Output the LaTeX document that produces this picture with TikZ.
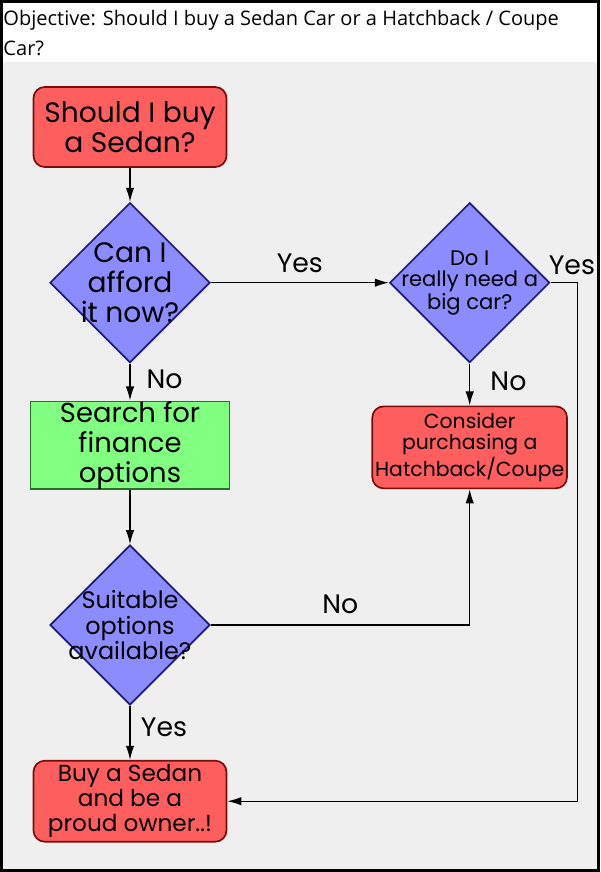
\documentclass[tikz,border=0pt]{standalone}
\usepackage{fontspec}
\setmainfont{Poppins}
\newfontfamily\headfont{Open Sans}
\usepackage{tikz}
\usetikzlibrary{arrows.meta, positioning, shapes.geometric}
\definecolor{boxred}{HTML}{FF5E5E}
\definecolor{boxredline}{HTML}{7A0C0C}
\definecolor{boxblue}{HTML}{8C8CFF}
\definecolor{boxblueline}{HTML}{1C1C78}
\definecolor{boxgreen}{HTML}{80FF80}
\definecolor{boxgreenline}{HTML}{2A6E2A}
\definecolor{paper}{HTML}{EFEFEF}

\begin{document}
\begin{tikzpicture}[
  endbox/.style={draw=boxredline, fill=boxred, line width=1.2pt, rounded corners=8pt, minimum width=4.825cm, minimum height=2cm, align=center, inner sep=2pt},
  decision/.style={diamond, draw=boxblueline, fill=boxblue, line width=1.2pt, minimum width=4cm, minimum height=4cm, inner sep=-14pt, align=center},
  process/.style={draw=boxgreenline, fill=boxgreen, line width=1.2pt, minimum width=4.975cm, minimum height=2.15cm, align=center, inner sep=0pt},
  arrow/.style={-{Latex[length=10pt, width=6pt]}, line width=0.9pt},
  answer/.style={font=\fontsize{19}{21}\selectfont},
  bigtext/.style={font=\fontsize{20}{21.3}\selectfont},
  midtext/.style={font=\fontsize{16.5}{17.8}\selectfont},
  smalltext/.style={font=\fontsize{14.5}{15}\selectfont},
]

% Page, header and frame
\useasboundingbox (0,0) rectangle (15,-21.8);
\fill[white] (0,0) rectangle (15,-21.8);
\fill[paper] (0,-1.55) rectangle (15,-21.8);
\draw[line width=2.2pt] (0.04,-0.04) rectangle (14.96,-21.76);
\node[anchor=north west, inner sep=0pt, align=left, font=\headfont\fontsize{14.25}{21.3}\selectfont] (objective) at (0.08,-0.25) {Objective: Should I buy a Sedan Car or a Hatchback / Coupe\\Car?};

% Left column
\node[endbox, bigtext] (sedan) at (3.25,-3.175) {Should I buy\\a Sedan?};
\node[decision, bigtext, below=0.85cm of sedan] (afford) {Can I\\afford\\it now?};
\node[process, bigtext, font=\fontsize{19.5}{21.3}\selectfont, below=0.925cm of afford] (finance) {Search for\\finance\\options};
\node[decision, midtext, font=\fontsize{17}{17.8}\selectfont, below=1.35cm of finance] (suitable) {Suitable\\options\\available?};
\node[endbox, midtext, minimum height=2.025cm, below=1.35cm of suitable] (buy) {Buy a Sedan\\and be a\\proud owner..!};

% Right column
\node[decision, smalltext, font=\fontsize{15}{15}\selectfont, right=4.45cm of afford] (needbig) {Do I\\really need a\\big car?};
\node[endbox, smalltext, minimum width=4.8cm, minimum height=2.05cm, below=1.05cm of needbig] (consider) {Consider\\purchasing a\\Hatchback/Coupe};
\coordinate[right=0.675cm of needbig.east] (turn);

% Arrows
\draw[arrow] (sedan) -- (afford);
\draw[arrow] (afford) -- node[answer, above, yshift=3pt] {Yes} (needbig);
\draw[arrow] (afford) -- node[answer, right, pos=0.43, xshift=8pt] {No} (finance);
\draw[arrow] (needbig) -- node[answer, right, pos=0.43, xshift=11pt] {No} (consider);
\draw[arrow] (finance) -- (suitable);
\draw[arrow] (suitable) -- node[answer, right, pos=0.39, xshift=4pt] {Yes} (buy);
\draw[arrow] (suitable.east) -| node[answer, above, pos=0.25, yshift=4pt] {No} (consider.south);
\draw[arrow] (needbig.east) -- node[answer, above, pos=1, xshift=-4pt, yshift=2pt] {Yes} (turn) |- (buy.east);

\end{tikzpicture}
\end{document}
